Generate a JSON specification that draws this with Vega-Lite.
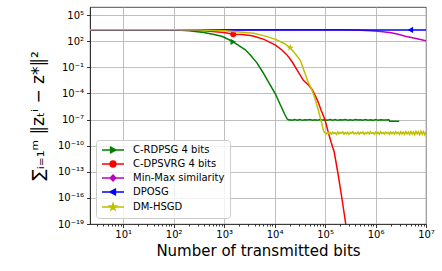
{
"$schema": "https://vega.github.io/schema/vega-lite/v6.json",
"width": 336, "height": 217,
"autosize": {"type": "none"},
"padding": {"left": 90, "top": 7, "right": 16, "bottom": 47},
"background": "white",
"config": {"font": "DejaVu Sans", "view": {"stroke": "#222", "strokeWidth": 0.8}},
"datasets": {
"g": [{"x":2.2,"y":2090},{"x":10,"y":2090},{"x":31.6,"y":2090},{"x":100,"y":1995},{"x":200,"y":1585},{"x":398,"y":955},{"x":631,"y":562},{"x":851,"y":380},{"x":1000,"y":282},{"x":1514,"y":83},{"x":1995,"y":28},{"x":2630,"y":10},{"x":3311,"y":2.5},{"x":4467,"y":0.32},{"x":5888,"y":0.025},{"x":7244,"y":0.00316},{"x":8318,"y":0.0008},{"x":10471,"y":7.9e-5},{"x":13183,"y":4.0e-6},{"x":15849,"y":4.0e-7},{"x":17783,"y":1.12e-7},{"x":19055,"y":8.9e-8},
{"x":19950,"y":9.5e-8},{"x":22390,"y":8.2e-8},{"x":25120,"y":9.8e-8},{"x":28180,"y":8.5e-8},{"x":31620,"y":1.0e-7},{"x":35480,"y":8.0e-8},{"x":39810,"y":9.3e-8},{"x":44670,"y":8.6e-8},{"x":50120,"y":1.02e-7},{"x":56230,"y":8.3e-8},{"x":63100,"y":9.6e-8},{"x":70790,"y":8.1e-8},{"x":79430,"y":9.9e-8},{"x":89130,"y":8.7e-8},{"x":100000,"y":9.4e-8},{"x":112200,"y":8.2e-8},{"x":125900,"y":1.01e-7},{"x":141300,"y":8.4e-8},{"x":158500,"y":9.7e-8},{"x":177800,"y":8.0e-8},{"x":199500,"y":9.2e-8},{"x":223900,"y":8.8e-8},{"x":251200,"y":1.0e-7},{"x":281800,"y":8.3e-8},{"x":316200,"y":9.5e-8},{"x":354800,"y":8.1e-8},{"x":398100,"y":9.8e-8},{"x":446700,"y":8.6e-8},{"x":501200,"y":9.3e-8},{"x":562300,"y":8.2e-8},{"x":631000,"y":1.01e-7},{"x":707900,"y":8.5e-8},{"x":794300,"y":9.6e-8},{"x":891300,"y":8.0e-8},{"x":1000000,"y":9.9e-8},{"x":1122000,"y":8.4e-8},{"x":1259000,"y":9.4e-8},{"x":1413000,"y":8.7e-8},{"x":1585000,"y":9.0e-8},{"x":1778000,"y":9.6e-8},{"x":1862000,"y":8.9e-8},{"x":1905000,"y":6.4e-8},{"x":2239000,"y":6.1e-8},{"x":2512000,"y":6.5e-8},{"x":2951000,"y":6.2e-8}],
"r": [{"x":2.2,"y":2090},{"x":10,"y":2090},{"x":100,"y":2042},{"x":398,"y":1585},{"x":1000,"y":1000},{"x":1514,"y":631},{"x":2239,"y":560},{"x":3311,"y":447},{"x":3890,"y":355},{"x":6166,"y":158},{"x":10471,"y":34.7},{"x":14125,"y":9.1},{"x":17783,"y":2.45},{"x":22387,"y":0.4},{"x":28184,"y":0.0447},{"x":37154,"y":0.00316},{"x":47863,"y":0.00079},{"x":56234,"y":0.00025},{"x":70795,"y":1.58e-5},{"x":83176,"y":1.26e-6},{"x":100000,"y":8.9e-8},{"x":114815,"y":4.0e-9},{"x":131826,"y":2.5e-10},{"x":151356,"y":2.0e-11},{"x":177828,"y":1e-13},{"x":213796,"y":1.26e-16},{"x":257040,"y":1e-19},{"x":288403,"y":1.6e-21}],
"m": [{"x":2.2,"y":2000},{"x":100,"y":2000},{"x":10000,"y":2000},{"x":199500,"y":1995},{"x":398100,"y":1862},{"x":812800,"y":1549},{"x":1259000,"y":1259},{"x":2042000,"y":912},{"x":2818000,"y":631},{"x":3715000,"y":398},{"x":6310000,"y":200},{"x":10000000,"y":112}],
"b": [{"x":2.2,"y":1950},{"x":100,"y":1950},{"x":10000,"y":1950},{"x":1000000,"y":1950},{"x":10000000,"y":1950}],
"y": [{"x":2.2,"y":2090},{"x":10,"y":2090},{"x":100,"y":2090},{"x":316,"y":1950},{"x":1000,"y":1585},{"x":3890,"y":794},{"x":6310,"y":400},{"x":10471,"y":158},{"x":15849,"y":50},{"x":20417,"y":17},{"x":25704,"y":3.5},{"x":32359,"y":0.63},{"x":38019,"y":0.0447},{"x":44668,"y":0.00316},{"x":50119,"y":0.00079},{"x":56234,"y":0.00018},{"x":63096,"y":2.5e-5},{"x":70795,"y":2.5e-6},{"x":83176,"y":7.9e-8},{"x":93325,"y":5.0e-9},
{"x":100000,"y":2.8e-9},{"x":105900,"y":2.2e-9},{"x":112200,"y":3.5e-9},{"x":118900,"y":2.4e-9},{"x":125900,"y":3.2e-9},{"x":133400,"y":2.1e-9},{"x":141300,"y":3.6e-9},{"x":149600,"y":2.5e-9},{"x":158500,"y":3.0e-9},{"x":167900,"y":2.0e-9},{"x":177800,"y":3.7e-9},{"x":188400,"y":2.3e-9},{"x":199500,"y":3.3e-9},{"x":211300,"y":2.6e-9},{"x":223900,"y":3.8e-9},{"x":237100,"y":2.1e-9},{"x":251200,"y":3.1e-9},{"x":266100,"y":2.4e-9},{"x":281800,"y":3.5e-9},{"x":298500,"y":2.0e-9},{"x":316200,"y":3.4e-9},{"x":335000,"y":2.5e-9},{"x":354800,"y":3.9e-9},{"x":375800,"y":2.2e-9},{"x":398100,"y":3.0e-9},{"x":421700,"y":2.3e-9},{"x":446700,"y":3.6e-9},{"x":473200,"y":2.1e-9},{"x":501200,"y":3.3e-9},{"x":530900,"y":2.6e-9},{"x":562300,"y":3.7e-9},{"x":595700,"y":2.0e-9},{"x":631000,"y":3.2e-9},{"x":668300,"y":2.4e-9},{"x":707900,"y":3.5e-9},{"x":749900,"y":2.2e-9},{"x":794300,"y":3.8e-9},{"x":841400,"y":2.5e-9},{"x":891300,"y":3.1e-9},{"x":944100,"y":2.1e-9},
{"x":1000000,"y":3.6e-9},{"x":1059000,"y":2.3e-9},{"x":1122000,"y":3.4e-9},{"x":1189000,"y":2.0e-9},{"x":1259000,"y":3.9e-9},{"x":1334000,"y":2.4e-9},{"x":1413000,"y":3.2e-9},{"x":1496000,"y":2.2e-9},{"x":1585000,"y":3.7e-9},{"x":1679000,"y":2.5e-9},{"x":1778000,"y":3.3e-9},{"x":1884000,"y":2.0e-9},{"x":1995000,"y":3.8e-9},{"x":2113000,"y":2.3e-9},{"x":2239000,"y":3.5e-9},{"x":2371000,"y":2.1e-9},{"x":2512000,"y":4.0e-9},{"x":2661000,"y":2.4e-9},{"x":2818000,"y":3.4e-9},{"x":2985000,"y":1.9e-9},{"x":3162000,"y":3.9e-9},{"x":3350000,"y":2.2e-9},{"x":3548000,"y":3.6e-9},{"x":3758000,"y":2.0e-9},{"x":3981000,"y":4.1e-9},{"x":4217000,"y":2.3e-9},{"x":4467000,"y":3.7e-9},{"x":4732000,"y":1.9e-9},{"x":5012000,"y":4.2e-9},{"x":5309000,"y":2.1e-9},{"x":5623000,"y":3.8e-9},{"x":5957000,"y":1.8e-9},{"x":6310000,"y":4.3e-9},{"x":6683000,"y":2.2e-9},{"x":7079000,"y":3.9e-9},{"x":7499000,"y":1.8e-9},{"x":7943000,"y":4.4e-9},{"x":8414000,"y":2.0e-9},{"x":8913000,"y":4.1e-9},{"x":9441000,"y":1.8e-9},{"x":10000000,"y":4.0e-9}],
"mk": [{"s":"C-RDPSG 4 bits","x":1514,"y":83},{"s":"C-DPSVRG 4 bits","x":1514,"y":631},{"s":"Min-Max similarity","x":100000,"y":2000},{"s":"DPOSG","x":4900000,"y":1950},{"s":"DM-HSGD","x":20417,"y":17}]
},
"encoding": {
 "x": {"field": "x", "type": "quantitative",
  "scale": {"type": "log", "domain": [2.2, 10000000], "nice": false},
  "axis": {
   "title": "Number of transmitted bits",
   "values": [3,4,5,6,7,8,9,10,20,30,40,50,60,70,80,90,100,200,300,400,500,600,700,800,900,1000,2000,3000,4000,5000,6000,7000,8000,9000,10000,20000,30000,40000,50000,60000,70000,80000,90000,100000,200000,300000,400000,500000,600000,700000,800000,900000,1000000,2000000,3000000,4000000,5000000,6000000,7000000,8000000,9000000,10000000],
   "labelExpr": "abs(log(datum.value)/LN10 - round(log(datum.value)/LN10)) < 0.001 ? '10' + replace(replace(replace(replace(replace(replace(replace(replace(replace(replace(replace(toString(round(log(datum.value)/LN10)),'-','⁻'),'0','⁰'),'1','¹'),'2','²'),'3','³'),'4','⁴'),'5','⁵'),'6','⁶'),'7','⁷'),'8','⁸'),'9','⁹') : ''",
   "grid": true, "gridColor": "#b0b0b0", "gridWidth": 0.8,
   "gridOpacity": {"condition": {"test": "abs(log(datum.value)/LN10 - round(log(datum.value)/LN10)) < 0.001", "value": 1}, "value": 0},
   "tickSize": {"condition": {"test": "abs(log(datum.value)/LN10 - round(log(datum.value)/LN10)) < 0.001", "value": 3.5}, "value": 2},
   "tickColor": "#000", "tickWidth": 0.8, "domainColor": "#222", "domainWidth": 0.8,
   "labelFontSize": 10, "labelColor": "#000", "labelPadding": 2, "labelOverlap": false, "labelFlush": false,
   "titleFontSize": 15, "titleFontWeight": "normal", "titleColor": "#000", "titlePadding": 4
  }},
 "y": {"field": "y", "type": "quantitative",
  "scale": {"type": "log", "domain": [1e-19, 830000], "nice": false},
  "axis": {
   "title": "∑ᵢ₌₁ᵐ ‖zₜⁱ − z*‖²",
   "values": [100000, 100, 0.1, 1e-4, 1e-7, 1e-10, 1e-13, 1e-16, 1e-19],
   "labelExpr": "'10' + replace(replace(replace(replace(replace(replace(replace(replace(replace(replace(replace(toString(round(log(datum.value)/LN10)),'-','⁻'),'0','⁰'),'1','¹'),'2','²'),'3','³'),'4','⁴'),'5','⁵'),'6','⁶'),'7','⁷'),'8','⁸'),'9','⁹')",
   "grid": true, "gridColor": "#b0b0b0", "gridWidth": 0.8,
   "tickSize": 3.5, "tickColor": "#000", "tickWidth": 0.8, "domainColor": "#222", "domainWidth": 0.8,
   "labelFontSize": 10, "labelColor": "#000", "labelPadding": 3, "labelOverlap": false, "labelFlush": false,
   "titleFontSize": 17, "titleFontWeight": "normal", "titleColor": "#000", "titlePadding": 10
  }}
},
"layer": [
 {"data": {"name": "g"}, "mark": {"type": "line", "color": "#008000", "strokeWidth": 1.5, "clip": true}, "encoding": {}},
 {"data": {"name": "mk"}, "transform": [{"filter": "datum.s === 'C-RDPSG 4 bits'"}], "mark": {"type": "point", "shape": "triangle-right", "filled": true, "opacity": 1, "color": "#008000", "size": 40}, "encoding": {}},
 {"data": {"name": "r"}, "mark": {"type": "line", "color": "#ff0000", "strokeWidth": 1.5, "clip": true}, "encoding": {}},
 {"data": {"name": "mk"}, "transform": [{"filter": "datum.s === 'C-DPSVRG 4 bits'"}], "mark": {"type": "point", "shape": "circle", "filled": true, "opacity": 1, "color": "#ff0000", "size": 36}, "encoding": {}},
 {"data": {"name": "m"}, "mark": {"type": "line", "color": "#bf00bf", "strokeWidth": 1.5, "clip": true}, "encoding": {}},
 {"data": {"name": "b"}, "mark": {"type": "line", "color": "#0000ff", "strokeWidth": 1.5, "clip": true}, "encoding": {}},
 {"data": {"name": "mk"}, "transform": [{"filter": "datum.s === 'DPOSG'"}], "mark": {"type": "point", "shape": "triangle-left", "filled": true, "opacity": 1, "color": "#0000ff", "size": 40}, "encoding": {}},
 {"data": {"name": "y"}, "mark": {"type": "line", "color": "#bfbf00", "strokeWidth": 1.5, "clip": true}, "encoding": {}},
 {"data": {"name": "mk"}, "transform": [{"filter": "datum.s === 'DM-HSGD'"}], "mark": {"type": "point", "shape": "M0,-1L0.235,-0.324L0.951,-0.309L0.38,0.124L0.588,0.809L0,0.4L-0.588,0.809L-0.38,0.124L-0.951,-0.309L-0.235,-0.324Z", "filled": true, "opacity": 1, "color": "#bfbf00", "size": 56}, "encoding": {}},
 {"data": {"name": "mk"}, "mark": {"type": "point", "filled": true, "opacity": 0, "size": 64, "strokeWidth": 1.5},
  "encoding": {
   "fill": {"field": "s", "type": "nominal",
    "scale": {"domain": ["C-RDPSG 4 bits","C-DPSVRG 4 bits","Min-Max similarity","DPOSG","DM-HSGD"], "range": ["#008000","#ff0000","#bf00bf","#0000ff","#bfbf00"]},
    "legend": {"title": null, "orient": "bottom-left", "offset": 6, "padding": 5, "rowPadding": 2, "labelFontSize": 10, "labelColor": "#000", "symbolSize": 64, "symbolStrokeWidth": 1.5, "labelOffset": 22, "fillColor": "rgba(255,255,255,0.8)", "strokeColor": "#cccccc", "cornerRadius": 3, "symbolOpacity": 1}},
   "stroke": {"field": "s", "type": "nominal",
    "scale": {"domain": ["C-RDPSG 4 bits","C-DPSVRG 4 bits","Min-Max similarity","DPOSG","DM-HSGD"], "range": ["#008000","#ff0000","#bf00bf","#0000ff","#bfbf00"]},
    "legend": {"title": null, "orient": "bottom-left", "offset": 6, "padding": 5, "rowPadding": 2, "labelFontSize": 10, "labelColor": "#000", "symbolSize": 64, "symbolStrokeWidth": 1.5, "labelOffset": 22, "fillColor": "rgba(255,255,255,0.8)", "strokeColor": "#cccccc", "cornerRadius": 3, "symbolOpacity": 1}},
   "shape": {"field": "s", "type": "nominal",
    "scale": {"domain": ["C-RDPSG 4 bits","C-DPSVRG 4 bits","Min-Max similarity","DPOSG","DM-HSGD"], "range": [
     "M-1,0H4.5M1.15,-0.7L2.5,0L1.15,0.7Z",
     "M-1,0H4.5M1.03,0A0.72,0.72 0 1,0 2.47,0A0.72,0.72 0 1,0 1.03,0Z",
     "M-1,0H4.5M1.75,-0.75L2.45,0L1.75,0.75L1.05,0Z",
     "M-1,0H4.5M2.35,-0.7L1.0,0L2.35,0.7Z",
     "M-1,0H4.5M1.75,-0.85L1.95,-0.275L2.558,-0.263L2.073,0.105L2.25,0.688L1.75,0.34L1.25,0.688L1.427,0.105L0.942,-0.263L1.55,-0.275Z"]},
    "legend": {"title": null, "orient": "bottom-left", "offset": 6, "padding": 5, "rowPadding": 2, "labelFontSize": 10, "labelColor": "#000", "symbolSize": 64, "symbolStrokeWidth": 1.5, "labelOffset": 22, "fillColor": "rgba(255,255,255,0.8)", "strokeColor": "#cccccc", "cornerRadius": 3, "symbolOpacity": 1}}
  }}
]
}
